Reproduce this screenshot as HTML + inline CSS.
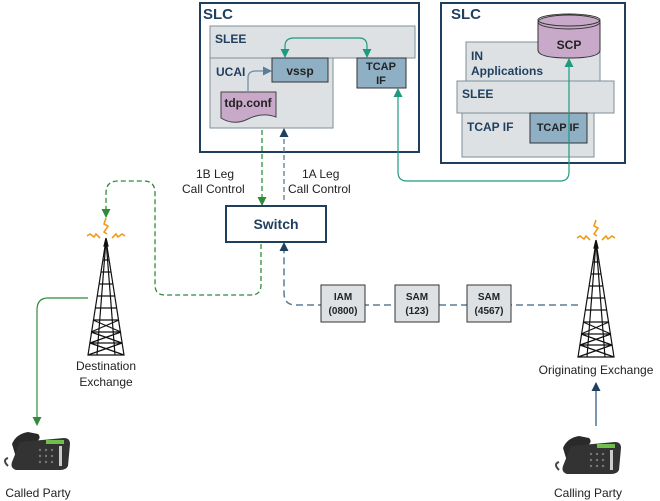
<!DOCTYPE html>
<html><head><meta charset="utf-8"><style>
html,body{margin:0;padding:0;background:#fff;}
svg{display:block;font-family:"Liberation Sans",Arial,sans-serif;}
.b{font-weight:bold;fill:#1f3f5f;}
</style></head><body>
<svg width="660" height="501" viewBox="0 0 660 501" xmlns="http://www.w3.org/2000/svg">
<defs>
<marker id="ag" markerWidth="9" markerHeight="9" refX="8" refY="4.5" orient="auto-start-reverse" markerUnits="userSpaceOnUse"><path d="M0,0 L9,4.5 L0,9 z" fill="#2e8b3a"/></marker>
<marker id="at" markerWidth="9" markerHeight="9" refX="8" refY="4.5" orient="auto-start-reverse" markerUnits="userSpaceOnUse"><path d="M0,0 L9,4.5 L0,9 z" fill="#1e9a80"/></marker>
<marker id="an" markerWidth="9" markerHeight="9" refX="8" refY="4.5" orient="auto-start-reverse" markerUnits="userSpaceOnUse"><path d="M0,0 L9,4.5 L0,9 z" fill="#1f3f5f"/></marker>
<marker id="as" markerWidth="9" markerHeight="9" refX="8" refY="4.5" orient="auto-start-reverse" markerUnits="userSpaceOnUse"><path d="M0,0 L9,4.5 L0,9 z" fill="#5a7d98"/></marker>
<g id="tower" fill="none" stroke="#111" stroke-width="1.2">
<path d="M0,0 L-18,115 L18,115 Z"/>
<path d="M0,0 L-9,115 M0,0 L9,115"/>
<path d="M-3,20 L3,20 M-5,32 L5,32 M-7,44 L7,44 M-9,56 L9,56 M-11,68 L11,68 M-13,80 L13,80 M-15,92 L15,92 M-16,103 L16,103"/>
<path d="M-13,80 L15,92 M13,80 L-15,92 M-15,92 L16,103 M15,92 L-16,103 M-16,103 L18,115 M16,103 L-18,115"/>
<path d="M0,-2 L-2,6 L2,6 Z" fill="#111"/>
</g>
<g id="ant" fill="none" stroke="#f29a1a" stroke-width="1.6">
<path d="M0,-22 L-2,-16 L2,-14 L-2,-8 L1,-6"/>
<path d="M-6,-2 L-10,-6 L-12,-3 L-16,-6 L-19,-4"/>
<path d="M6,-2 L10,-6 L12,-3 L16,-6 L19,-4"/>
</g>
<g id="phone">
<path d="M10,14 Q14,4 26,2 L36,4 Q40,8 34,12 L28,30 Q22,36 16,34 Z" fill="#2a2a2a"/>
<path d="M18,12 L62,8 Q68,8 68,14 L66,36 Q64,40 58,40 L14,40 Q8,38 10,32 Z" fill="#333"/>
<rect x="44" y="10" width="18" height="4" fill="#6fbf4a"/>
<path d="M6,36 Q0,30 6,28" stroke="#444" stroke-width="2" fill="none"/>
<g fill="#777"><circle cx="38" cy="20" r="1.2"/><circle cx="44" cy="20" r="1.2"/><circle cx="50" cy="20" r="1.2"/><circle cx="38" cy="26" r="1.2"/><circle cx="44" cy="26" r="1.2"/><circle cx="50" cy="26" r="1.2"/><circle cx="38" cy="32" r="1.2"/><circle cx="44" cy="32" r="1.2"/><circle cx="50" cy="32" r="1.2"/></g>
<rect x="57" y="16" width="3" height="20" fill="#ccc"/>
</g>
</defs>

<!-- SLC 1 -->
<rect x="200" y="3" width="219" height="149" fill="#fff" stroke="#1f3f5f" stroke-width="2"/>
<text x="203" y="19" class="b" font-size="15">SLC</text>
<rect x="210" y="26" width="205" height="32" fill="#dde1e4" stroke="#7d8e9a"/>
<text x="215" y="43" class="b" font-size="12">SLEE</text>
<rect x="210" y="58" width="123" height="70" fill="#dde1e4" stroke="#7d8e9a"/>
<text x="216" y="76" class="b" font-size="12">UCAI</text>
<rect x="272" y="58" width="56" height="24" fill="#8fb0c4" stroke="#333"/>
<text x="300" y="75" font-size="12" font-weight="bold" fill="#222" text-anchor="middle">vssp</text>
<rect x="357" y="58" width="49" height="30" fill="#8fb0c4" stroke="#333"/>
<text x="381" y="70" font-size="11" font-weight="bold" fill="#222" text-anchor="middle">TCAP</text>
<text x="381" y="84" font-size="11" font-weight="bold" fill="#222" text-anchor="middle">IF</text>
<path d="M221,92 L276,92 L276,117 Q262,112 248,119 Q234,126 221,118 Z" fill="#c9a9c9" stroke="#444"/>
<text x="248" y="107" font-size="12" font-weight="bold" fill="#222" text-anchor="middle">tdp.conf</text>
<path d="M248,91 L248,78 Q248,71 256,71 L271,71" fill="none" stroke="#6a8aa6" stroke-width="1.2" marker-end="url(#as)"/>
<path d="M285,57 L285,46 Q285,38 294,38 L359,38 Q367,38 367,46 L367,57" fill="none" stroke="#1e9a80" stroke-width="1.2" marker-start="url(#at)" marker-end="url(#at)"/>

<!-- SLC 2 -->
<rect x="441" y="3" width="184" height="160" fill="#fff" stroke="#1f3f5f" stroke-width="2"/>
<text x="451" y="19" class="b" font-size="15">SLC</text>
<rect x="466" y="42" width="134" height="39" fill="#dde1e4" stroke="#7d8e9a"/>
<text x="471" y="60" class="b" font-size="12">IN</text>
<text x="471" y="75" class="b" font-size="12">Applications</text>
<rect x="457" y="81" width="157" height="32" fill="#dde1e4" stroke="#7d8e9a"/>
<text x="462" y="98" class="b" font-size="12">SLEE</text>
<rect x="462" y="113" width="132" height="44" fill="#dde1e4" stroke="#7d8e9a"/>
<text x="467" y="131" class="b" font-size="12">TCAP IF</text>
<rect x="530" y="113" width="57" height="30" fill="#8fb0c4" stroke="#333"/>
<text x="558" y="131" font-size="11" font-weight="bold" fill="#222" text-anchor="middle">TCAP IF</text>
<path d="M538,22 L538,50 Q538,58 569,58 Q600,58 600,50 L600,22 Z" fill="#c9a9c9" stroke="#333"/>
<ellipse cx="569" cy="22" rx="31" ry="7" fill="#c9a9c9" stroke="#333"/>
<ellipse cx="569" cy="20" rx="31" ry="6" fill="none" stroke="#333"/>
<text x="569" y="49" font-size="12" font-weight="bold" fill="#222" text-anchor="middle">SCP</text>

<!-- TCAP link -->
<path d="M398,89 L398,172 Q398,181 407,181 L560,181 Q569,181 569,172 L569,59" fill="none" stroke="#1e9a80" stroke-width="1.2" marker-start="url(#at)" marker-end="url(#at)"/>

<!-- 1B / 1A -->
<path d="M262,130 L262,205" fill="none" stroke="#2e8b3a" stroke-width="1.3" stroke-dasharray="5,3" marker-end="url(#ag)"/>
<path d="M284,200 L284,129" fill="none" stroke="#5a7d98" stroke-width="1.3" stroke-dasharray="5,3" marker-end="url(#an)"/>
<text x="196" y="178" font-size="12" fill="#222">1B Leg</text>
<text x="182" y="193" font-size="12" fill="#222">Call Control</text>
<text x="302" y="178" font-size="12" fill="#222">1A Leg</text>
<text x="288" y="193" font-size="12" fill="#222">Call Control</text>

<!-- Switch -->
<rect x="226" y="206" width="100" height="36" fill="#fff" stroke="#1f3f5f" stroke-width="2"/>
<text x="276" y="229" font-size="14" font-weight="bold" fill="#1f3f5f" text-anchor="middle">Switch</text>

<!-- green dashed to destination -->
<path d="M261,244 L261,285 Q261,295 251,295 L165,295 Q155,295 155,285 L155,193 Q155,181 144,181 L118,181 Q106,181 106,193 L106,217" fill="none" stroke="#2e8b3a" stroke-width="1.3" stroke-dasharray="5,3" marker-end="url(#ag)"/>
<!-- navy dashed signalling -->
<path d="M578,305 L296,305 Q284,305 284,293 L284,243" fill="none" stroke="#5a7d98" stroke-width="1.5" stroke-dasharray="7,4" marker-end="url(#an)"/>
<rect x="321" y="285" width="44" height="37" fill="#dde1e4" stroke="#333"/>
<text x="343" y="300" font-size="10" font-weight="bold" fill="#222" text-anchor="middle">IAM</text>
<text x="343" y="314" font-size="10" font-weight="bold" fill="#222" text-anchor="middle">(0800)</text>
<rect x="395" y="285" width="44" height="37" fill="#dde1e4" stroke="#333"/>
<text x="417" y="300" font-size="10" font-weight="bold" fill="#222" text-anchor="middle">SAM</text>
<text x="417" y="314" font-size="10" font-weight="bold" fill="#222" text-anchor="middle">(123)</text>
<rect x="467" y="285" width="44" height="37" fill="#dde1e4" stroke="#333"/>
<text x="489" y="300" font-size="10" font-weight="bold" fill="#222" text-anchor="middle">SAM</text>
<text x="489" y="314" font-size="10" font-weight="bold" fill="#222" text-anchor="middle">(4567)</text>

<!-- towers -->
<use href="#ant" x="106" y="240"/>
<use href="#tower" x="106" y="240"/>
<use href="#ant" x="596" y="242"/>
<use href="#tower" x="596" y="242"/>
<text x="106" y="370" font-size="12" fill="#222" text-anchor="middle">Destination</text>
<text x="106" y="386" font-size="12" fill="#222" text-anchor="middle">Exchange</text>
<text x="596" y="374" font-size="12" fill="#222" text-anchor="middle">Originating Exchange</text>

<!-- called party -->
<path d="M88,298 L48,298 Q37,298 37,310 L37,425" fill="none" stroke="#2e8b3a" stroke-width="1.2" marker-end="url(#ag)"/>
<use href="#phone" x="2" y="430"/>
<text x="38" y="497" font-size="12" fill="#222" text-anchor="middle">Called Party</text>

<!-- calling party -->
<path d="M596,426 L596,383" fill="none" stroke="#1f4f7f" stroke-width="1.2" marker-end="url(#an)"/>
<use href="#phone" x="553" y="434"/>
<text x="588" y="497" font-size="12" fill="#222" text-anchor="middle">Calling Party</text>
</svg>
</body></html>
